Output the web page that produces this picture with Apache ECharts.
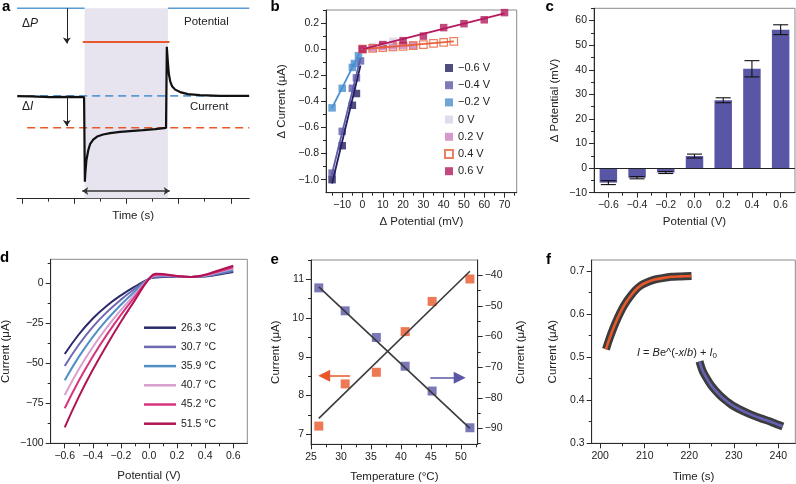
<!DOCTYPE html>
<html><head><meta charset="utf-8">
<script src="https://cdn.jsdelivr.net/npm/echarts@6/dist/echarts.min.js"></script>
<style>html,body{margin:0;padding:0;background:#fff}#c{width:796px;height:484px}</style>
</head><body><div id="c"></div>
<script>
// ================= DATA =================
// Panel a (schematic, arbitrary units)
const aTime    = [-0.18,0.32,1.08,1.85,2.38,2.41,2.43,2.47,2.54,2.61,2.73,2.88,3.11,3.38,3.76,4.14,4.64,5.10,5.52,5.55,5.59,5.63,5.68,5.75,5.87,6.06,6.36,6.82,7.59,8.70];
const aCurrent = [53.8,53.6,53.2,53.4,53.2,8.7,13.8,20.1,25.3,28.5,30.9,32.5,33.6,34.3,35.0,35.4,35.9,36.4,37.1,79.7,71.6,65.3,61.6,59.0,57.2,55.9,54.8,54.3,53.9,53.9];
const aPotBaseX1 = [-0.19, 2.40];
const aPotBaseX2 = [5.59, 8.71];
const aPotStepX  = [2.33, 5.65];
const aPotBase = 100, aPotStep = 82.3;
const aDashX = [0.2, 8.71];
const aCurBase = 53.9, aCurStep = 37.1;
const aShade = [2.40, 5.59];
const aArrowP = [[1.72, 100], [1.72, 81.5]];
const aArrowI = [[1.72, 53.3], [1.72, 38.0]];
const aArrow5s = [[2.31, 3.8], [5.66, 3.8]];

// Panel b
const bNames = ['\u22120.6 V','\u22120.4 V','\u22120.2 V','0 V','0.2 V','0.4 V','0.6 V'];
const bX = [
  [-15,-10,-5,-3],
  [-15,-10,-5,-3,-1],
  [-15,-10,-5,-4,-2],
  [0,5,10,15],
  [0,5,10,15,20,25],
  [0,5,10,15,20,25,30,35,40,45],
  [0,10,20,30,40,50,60,70]
];
const bY = [
  [-1.0,-0.74,-0.43,-0.34],
  [-0.95,-0.63,-0.30,-0.22,-0.09],
  [-0.45,-0.30,-0.14,-0.11,-0.05],
  [0.0,0.02,0.03,0.06],
  [0.0,0.01,0.02,0.025,0.03,0.03],
  [0.0,0.006,0.011,0.017,0.022,0.027,0.035,0.045,0.052,0.06],
  [0.0,0.035,0.065,0.10,0.165,0.195,0.225,0.28]
];
const bFitX = [[-15,-1],[-15.3,-1],[-15,-1.5],[0,15],[0,25],[0,45],[0,70]];
const bFitY = [[-1.03,-0.125],[-0.97,-0.07],[-0.45,-0.03],[0,0.05],[0,0.03],[0,0.06],[0,0.275]];

// Panel c
const cPotential = [-0.6,-0.4,-0.2,0.0,0.2,0.4,0.6];
const cMean = [-5.9,-3.9,-1.8,4.9,27.6,40.4,56.3];
const cErr  = [0.8,0.45,0.4,0.8,1.0,3.3,2.0];

// Panel d
const dPotential = [-0.6,-0.5,-0.4,-0.3,-0.2,-0.1,0,0.05,0.1,0.2,0.3,0.4,0.5,0.6];
const dTemps = ['26.3 \u00b0C','30.7 \u00b0C','35.9 \u00b0C','40.7 \u00b0C','45.2 \u00b0C','51.5 \u00b0C'];
const dCurrent = [
  [-44.2,-32.0,-22.0,-14.0,-7.5,-2.0,2.8,3.6,3.9,4.0,4.0,4.3,5.5,7.0],
  [-51.7,-38.4,-27.2,-18.0,-10.2,-3.4,2.8,4.0,4.2,4.1,4.0,4.5,5.9,7.7],
  [-60.6,-46.0,-33.5,-22.8,-13.4,-5.0,2.8,4.5,4.6,4.2,4.0,4.7,6.5,8.4],
  [-69.8,-53.7,-39.8,-27.6,-16.7,-6.7,2.8,4.9,5.0,4.3,4.0,4.9,7.0,9.2],
  [-78.1,-60.9,-45.7,-32.1,-19.7,-8.3,2.8,5.4,5.3,4.4,4.0,5.1,7.5,10.0],
  [-90.0,-71.0,-54.0,-38.5,-24.0,-10.5,2.8,6.0,5.8,4.6,4.0,5.4,8.2,11.0]
];

// Panel e
const eTemp = [26.3,30.7,35.9,40.7,45.2,51.5];
const eLeft = [7.21,8.30,8.60,9.65,10.43,11.01];
const eRight = [-44.1,-51.6,-60.3,-69.7,-77.8,-89.8];
const eFitX = [26.3, 51.5];
const eFitLeft = [7.41, 11.21];
const eFitRight = [-43.8, -90.0];
const eArrowLeft = [[31.5, 8.51], [27.2, 8.51]];
const eArrowRight = [[44.9, 8.46], [49.8, 8.46]];

// Panel f
const fRiseT = [201.3,202,203,204,205,206,207,208,209,210,212,214,216,218,220.5];
const fRiseI = [0.518,0.540,0.568,0.592,0.613,0.630,0.644,0.656,0.665,0.671,0.679,0.683,0.686,0.687,0.688];
const fDecayT = [222.3,223,224,225,226,227,228,229,230,232,234,236,238,240,241];
const fDecayI = [0.490,0.468,0.449,0.433,0.421,0.410,0.401,0.393,0.386,0.375,0.366,0.358,0.351,0.343,0.339];

// ================= STYLE =================
const FONT = '"Liberation Sans", Arial, Helvetica, sans-serif';
const AX = '#2a2a2a', TXT = '#222', FRAME = '#8a8a8a';
const TICKFS = 10.5, NAMEFS = 11.5;
const bColors = ['#231f5f','#5f5aa8','#4a8fd0','#dacfe7','#cc80bd','#e8603a','#b31b5c'];
const dColors = ['#2b2a6b','#6d69b1','#4f8fc6','#d7a0cd','#d6347d','#b01452'];
const BLUE = '#5b9bd5', RED = '#e8582a', PURP = '#5a56a6';

const minus = s => s.replace('-', '\u2212');
const f0 = v => minus(String(Math.round(v)));
const f1 = v => minus((Math.abs(v) < 1e-9 ? 0 : v).toFixed(1));

const xAxes = [], yAxes = [];
function mkAxis(list, isX, o) {
  const pos = o.position || (isX ? 'bottom' : 'left');
  const main = {
    type: 'value', gridIndex: o.grid, position: pos, min: o.min, max: o.max,
    axisLine: { show: true, onZero: false, lineStyle: { color: AX, width: 1 } },
    axisTick: { show: true, customValues: o.majors, length: o.majorLen || 5, lineStyle: { color: AX, width: 1 } },
    axisLabel: { show: o.labels !== false, customValues: o.majors, formatter: o.fmt, color: TXT,
      fontSize: TICKFS, fontFamily: FONT, margin: o.margin || 7 },
    splitLine: { show: false },
    name: o.name || '', nameLocation: 'middle', nameGap: o.nameGap || 20,
    nameRotate: isX ? 0 : 90,
    nameTextStyle: { fontSize: NAMEFS, fontFamily: FONT, color: TXT }
  };
  const minor = {
    type: 'value', gridIndex: o.grid, position: pos, min: o.min, max: o.max,
    axisLine: { show: false, onZero: false },
    axisTick: { show: true, customValues: o.minors, length: o.minorLen || 3, lineStyle: { color: AX, width: 1 } },
    axisLabel: { show: false }, splitLine: { show: false }
  };
  list.push(main); const idx = list.length - 1; list.push(minor);
  return idx;
}

const grids = [
  { left: 17, top: 4.5, width: 232.3, height: 193.8, show: false },
  { left: 326, top: 10, width: 190.7, height: 182.7 },
  { left: 594, top: 8.3, width: 201, height: 184.4 },
  { left: 50.7, top: 259.3, width: 196.6, height: 184 },
  { left: 311, top: 260, width: 166.7, height: 184.3 },
  { left: 591.7, top: 260, width: 203.6, height: 183.3 }
].map(g => Object.assign({ show: true, borderColor: FRAME, borderWidth: 1, backgroundColor: 'transparent', containLabel: false, outerBoundsMode: 'none' }, g));

// axes
const xA = mkAxis(xAxes, true, { grid: 0, min: -0.19, max: 8.71, majors: [0,2,4,6,8], minors: [1,3,5,7], labels: false, name: 'Time (s)', nameGap: 12, majorLen: 5.5, minorLen: 3.3 });
yAxes.push({ type: 'value', gridIndex: 0, min: 0, max: 102, show: false }); const yA = yAxes.length - 1;

const xB = mkAxis(xAxes, true, { grid: 1, min: -18, max: 76, majors: [-10,0,10,20,30,40,50,60,70], minors: [-15,-5,5,15,25,35,45,55,65,75], fmt: f0, name: '\u0394 Potential (mV)', nameGap: 23 });
const yB = mkAxis(yAxes, false, { grid: 1, min: -1.1, max: 0.3, majors: [-1.0,-0.8,-0.6,-0.4,-0.2,0.0,0.2], minors: [-0.9,-0.7,-0.5,-0.3,-0.1,0.1,0.3], fmt: f1, name: '\u0394 Current (\u03bcA)', nameGap: 38 });

const xC = mkAxis(xAxes, true, { grid: 2, min: -0.7, max: 0.7, majors: [-0.6,-0.4,-0.2,0.0,0.2,0.4,0.6], minors: [-0.5,-0.3,-0.1,0.1,0.3,0.5], fmt: f1, name: 'Potential (V)', nameGap: 23 });
const yC = mkAxis(yAxes, false, { grid: 2, min: -10, max: 65, majors: [-10,0,10,20,30,40,50,60], minors: [-5,5,15,25,35,45,55,65], fmt: f0, name: '\u0394 Potential (mV)', nameGap: 33 });

const xD = mkAxis(xAxes, true, { grid: 3, min: -0.7, max: 0.7, majors: [-0.6,-0.4,-0.2,0.0,0.2,0.4,0.6], minors: [-0.5,-0.3,-0.1,0.1,0.3,0.5], fmt: f1, name: 'Potential (V)', nameGap: 27 });
const yD = mkAxis(yAxes, false, { grid: 3, min: -100, max: 15, majors: [-100,-75,-50,-25,0], minors: [-87.5,-62.5,-37.5,-12.5,12.5], fmt: f0, name: 'Current (\u03bcA)', nameGap: 39 });

const xE = mkAxis(xAxes, true, { grid: 4, min: 25, max: 52.8, majors: [25,30,35,40,45,50], minors: [27.5,32.5,37.5,42.5,47.5,52.5], fmt: f0, name: 'Temperature (\u00b0C)', nameGap: 27 });
const yEL = mkAxis(yAxes, false, { grid: 4, min: 6.74, max: 11.5, majors: [7,8,9,10,11], minors: [7.5,8.5,9.5,10.5,11.5], fmt: f0, name: 'Current (\u03bcA)', nameGap: 29 });
const yER = mkAxis(yAxes, false, { grid: 4, position: 'right', min: -95.2, max: -35, majors: [-90,-80,-70,-60,-50,-40], minors: [-95,-85,-75,-65,-55,-45], fmt: f0, name: 'Current (\u03bcA)', nameGap: 37 });

const xF = mkAxis(xAxes, true, { grid: 5, min: 198.1, max: 243.8, majors: [200,210,220,230,240], minors: [205,215,225,235], fmt: f0, name: 'Time (s)', nameGap: 28 });
const yF = mkAxis(yAxes, false, { grid: 5, min: 0.3, max: 0.725, majors: [0.3,0.4,0.5,0.6,0.7], minors: [0.35,0.45,0.55,0.65], fmt: f1, name: 'Current (\u03bcA)', nameGap: 33 });

const zip = (xs, ys) => xs.map((x, i) => [x, ys[i]]);
const series = [];
const noSym = { symbol: 'none', showSymbol: false, animation: false };

// ---- panel a ----
series.push(Object.assign({ type: 'line', name: 'potA1', xAxisIndex: xA, yAxisIndex: yA, z: 1, clip: false,
  data: aPotBaseX1.map(x => [x, aPotBase]), lineStyle: { color: BLUE, width: 1.6 },
  markArea: { silent: true, itemStyle: { color: '#e7e3ef' },
    data: [[{ xAxis: aShade[0], yAxis: 0 }, { xAxis: aShade[1], yAxis: aPotBase }]] } }, noSym));
series.push(Object.assign({ type: 'line', name: 'potA2', xAxisIndex: xA, yAxisIndex: yA, z: 3, clip: false,
  data: aPotBaseX2.map(x => [x, aPotBase]), lineStyle: { color: BLUE, width: 1.6 } }, noSym));
series.push(Object.assign({ type: 'line', name: 'potStep', xAxisIndex: xA, yAxisIndex: yA, z: 3,
  data: aPotStepX.map(x => [x, aPotStep]), lineStyle: { color: RED, width: 2 } }, noSym));
series.push(Object.assign({ type: 'line', name: 'curBase', xAxisIndex: xA, yAxisIndex: yA, z: 3,
  data: aDashX.map(x => [x, aCurBase]), lineStyle: { color: BLUE, width: 1.6, type: [8, 5] } }, noSym));
series.push(Object.assign({ type: 'line', name: 'curStep', xAxisIndex: xA, yAxisIndex: yA, z: 3,
  data: aDashX.map(x => [x, aCurStep]), lineStyle: { color: RED, width: 1.6, type: [8, 5] } }, noSym));
series.push(Object.assign({ type: 'line', name: 'trace', xAxisIndex: xA, yAxisIndex: yA, z: 4,
  data: zip(aTime, aCurrent), lineStyle: { color: '#111', width: 2.2 } }, noSym));
series.push({ type: 'lines', coordinateSystem: 'cartesian2d', xAxisIndex: xA, yAxisIndex: yA, z: 5,
  symbol: ['none', 'arrow'], symbolSize: 6, lineStyle: { color: '#222', width: 1, opacity: 1 },
  data: [{ coords: aArrowP }, { coords: aArrowI }] });
series.push({ type: 'lines', coordinateSystem: 'cartesian2d', xAxisIndex: xA, yAxisIndex: yA, z: 5,
  symbol: ['arrow', 'arrow'], symbolSize: 6, lineStyle: { color: '#333', width: 1.5, opacity: 1 },
  data: [{ coords: aArrow5s }] });

// ---- panel b ----
bNames.forEach((nm, i) => {
  const open = i === 5;
  series.push({ type: 'scatter', name: nm, xAxisIndex: xB, yAxisIndex: yB, z: 3,
    symbol: 'rect', symbolSize: 7.5, data: zip(bX[i], bY[i]),
    itemStyle: open ? { color: 'rgba(255,255,255,0)', borderColor: bColors[i], borderWidth: 1.2 } : { color: bColors[i] } });
});
bNames.forEach((nm, i) => {
  series.push(Object.assign({ type: 'line', name: nm + ' fit', xAxisIndex: xB, yAxisIndex: yB, z: 4,
    data: zip(bFitX[i], bFitY[i]), lineStyle: { color: bColors[i], width: 1.8 } }, noSym));
});

// ---- panel c ----
series.push({ type: 'bar', name: 'cbar', xAxisIndex: xC, yAxisIndex: yC, barWidth: 17.5,
  data: zip(cPotential, cMean), itemStyle: { color: PURP }, z: 2,
  markLine: { silent: true, symbol: 'none', label: { show: false },
    lineStyle: { color: '#222', width: 1, type: 'solid' }, data: [{ yAxis: 0 }] } });
series.push({ type: 'custom', name: 'cerr', xAxisIndex: xC, yAxisIndex: yC, z: 5,
  data: cPotential.map((p, i) => [p, cMean[i], cErr[i]]), encode: { x: 0, y: 1 },
  renderItem: (params, api) => {
    const x = api.value(0), m = api.value(1), e = api.value(2);
    const t = api.coord([x, m + e]), b = api.coord([x, m - e]);
    const h = 7.5, st = { stroke: '#111', lineWidth: 1.1 };
    return { type: 'group', children: [
      { type: 'line', shape: { x1: t[0], y1: t[1], x2: b[0], y2: b[1] }, style: st },
      { type: 'line', shape: { x1: t[0] - h, y1: t[1], x2: t[0] + h, y2: t[1] }, style: st },
      { type: 'line', shape: { x1: b[0] - h, y1: b[1], x2: b[0] + h, y2: b[1] }, style: st }
    ] };
  } });

// ---- panel d ----
dTemps.forEach((nm, i) => {
  series.push(Object.assign({ type: 'line', name: nm, xAxisIndex: xD, yAxisIndex: yD, smooth: 0.45,
    data: zip(dPotential, dCurrent[i]), lineStyle: { color: dColors[i], width: 2 }, itemStyle: { color: dColors[i] } }, noSym));
});

// ---- panel e ----
series.push(Object.assign({ type: 'line', name: 'eFitL', xAxisIndex: xE, yAxisIndex: yEL, z: 3,
  data: zip(eFitX, eFitLeft), lineStyle: { color: '#3a3a3a', width: 1.6 } }, noSym));
series.push(Object.assign({ type: 'line', name: 'eFitR', xAxisIndex: xE, yAxisIndex: yER, z: 3,
  data: zip(eFitX, eFitRight), lineStyle: { color: '#3a3a3a', width: 1.6 } }, noSym));
series.push({ type: 'scatter', name: 'eL', xAxisIndex: xE, yAxisIndex: yEL, z: 2, symbol: 'rect', symbolSize: 9,
  data: zip(eTemp, eLeft), itemStyle: { color: RED } });
series.push({ type: 'scatter', name: 'eR', xAxisIndex: xE, yAxisIndex: yER, z: 2, symbol: 'rect', symbolSize: 9,
  data: zip(eTemp, eRight), itemStyle: { color: PURP } });
series.push({ type: 'lines', coordinateSystem: 'cartesian2d', xAxisIndex: xE, yAxisIndex: yEL, z: 5,
  symbol: ['none', 'triangle'], symbolSize: [9, 12], lineStyle: { color: RED, width: 1.5, opacity: 1 },
  data: [{ coords: eArrowLeft }] });
series.push({ type: 'lines', coordinateSystem: 'cartesian2d', xAxisIndex: xE, yAxisIndex: yEL, z: 5,
  symbol: ['none', 'triangle'], symbolSize: [9, 12], lineStyle: { color: PURP, width: 1.5, opacity: 1 },
  data: [{ coords: eArrowRight }] });

// ---- panel f ----
series.push(Object.assign({ type: 'line', name: 'fRiseData', xAxisIndex: xF, yAxisIndex: yF, z: 2,
  data: zip(fRiseT, fRiseI), smooth: 0.3, lineStyle: { color: '#3c3c3c', width: 8, cap: 'butt' } }, noSym));
series.push(Object.assign({ type: 'line', name: 'fRiseFit', xAxisIndex: xF, yAxisIndex: yF, z: 3,
  data: zip(fRiseT, fRiseI), smooth: 0.3, lineStyle: { color: RED, width: 2.6 } }, noSym));
series.push(Object.assign({ type: 'line', name: 'fDecayData', xAxisIndex: xF, yAxisIndex: yF, z: 2,
  data: zip(fDecayT, fDecayI), smooth: 0.3, lineStyle: { color: '#3c3c3c', width: 8, cap: 'butt' } }, noSym));
series.push(Object.assign({ type: 'line', name: 'fDecayFit', xAxisIndex: xF, yAxisIndex: yF, z: 3,
  data: zip(fDecayT, fDecayI), smooth: 0.3, lineStyle: { color: '#6562b5', width: 2.6 } }, noSym));

// ---- text ----
const letter = (t, x, y) => ({ type: 'text', x: x, y: y, style: { text: t, font: 'bold 15px ' + FONT, fill: '#000', verticalAlign: 'middle' } });
const txt = (t, x, y, extra) => ({ type: 'text', x: x, y: y, style: Object.assign({ text: t, fontSize: 11.5, fontFamily: FONT, fill: TXT, verticalAlign: 'middle' }, extra || {}) });
const graphic = [
  letter('a', 2, 6.5), letter('b', 270.5, 6.5), letter('c', 545.5, 6.8),
  letter('d', 0, 258), letter('e', 270.5, 259.8), letter('f', 546, 259.5),
  txt('Potential', 184, 21.5), txt('Current', 190, 106.5),
  { type: 'text', x: 22, y: 24, style: { text: '\u0394{i|P}', fontSize: 12, fontFamily: FONT, fill: TXT, verticalAlign: 'middle', rich: { i: { fontStyle: 'italic', fontSize: 12, fontFamily: FONT, fill: TXT } } } },
  { type: 'text', x: 22, y: 107, style: { text: '\u0394{i|I}', fontSize: 12, fontFamily: FONT, fill: TXT, verticalAlign: 'middle', rich: { i: { fontStyle: 'italic', fontSize: 12, fontFamily: FONT, fill: TXT } } } },
  txt('5 s', 126, 177, { align: 'center' }),
  { type: 'text', x: 637, y: 352.5, style: { text: '{i|I} = {i|B}e^(-{i|x}/{i|b}) + {i|I}{s|0}', fontSize: 11, fontFamily: FONT, fill: TXT, verticalAlign: 'middle',
      rich: { i: { fontStyle: 'italic', fontSize: 11, fontFamily: FONT, fill: TXT }, s: { fontSize: 8, fontFamily: FONT, fill: TXT, padding: [7, 0, 0, 0] } } } }
];

const chart = echarts.init(document.getElementById('c'), null, { renderer: 'canvas' });
chart.setOption({
  animation: false,
  backgroundColor: '#fff',
  textStyle: { fontFamily: FONT },
  grid: grids,
  xAxis: xAxes,
  yAxis: yAxes,
  legend: [
    { left: 444, top: 61, orient: 'vertical', padding: 0, itemWidth: 8, itemHeight: 8, itemGap: 3.2, icon: 'rect',
      data: bNames, textStyle: { fontSize: 11, fontFamily: FONT, color: TXT, lineHeight: 14 } },
    { left: 144, top: 320.7, orient: 'vertical', padding: 0, itemWidth: 32, itemHeight: 2.5, itemGap: 5.2, icon: 'rect',
      data: dTemps, textStyle: { fontSize: 10.5, fontFamily: FONT, color: TXT, lineHeight: 14 } }
  ],
  series: series,
  graphic: graphic
});
</script></body></html>
